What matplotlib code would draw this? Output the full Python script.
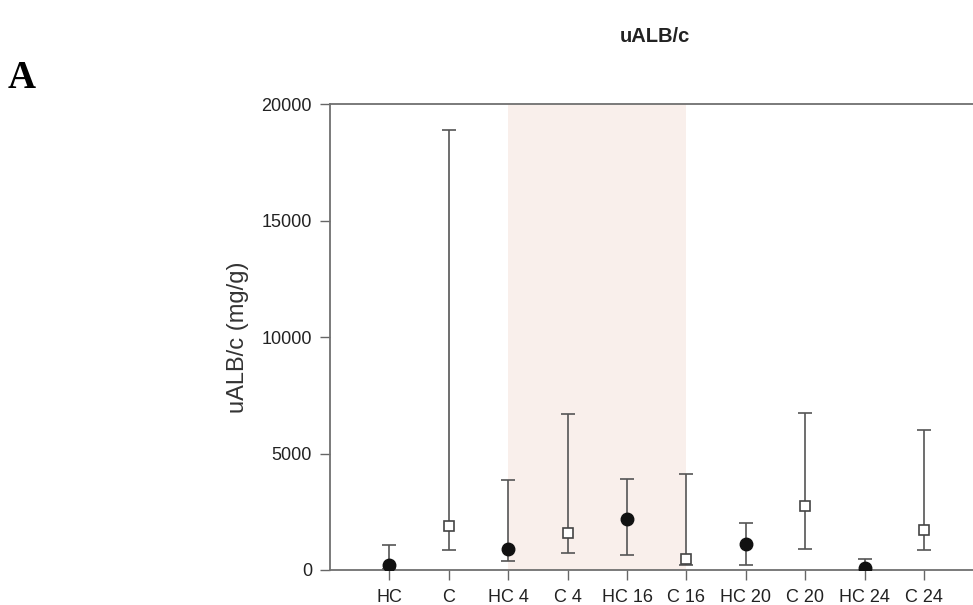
import matplotlib
matplotlib.use("Agg")
import matplotlib.pyplot as plt
import numpy as np

categories = ["HC", "C", "HC 4", "C 4", "HC 16", "C 16", "HC 20", "C 20", "HC 24", "C 24"]
center = [230, 1890, 890, 1600, 2190, 490, 1120, 2750, 70, 1720]
upper = [1090, 18880, 3870, 6680, 3910, 4110, 2000, 6750, 490, 6020]
lower = [30, 860, 390, 710, 650, 220, 230, 920, 10, 860]
filled = [True, False, True, False, True, False, True, False, True, False]
yticks = [0, 5000, 10000, 15000, 20000]

plt.rcParams['font.family'] = ['Liberation Sans', 'DejaVu Sans']

fig = plt.figure(figsize=(9.73, 6.05), dpi=100)
ax = fig.add_axes([330/973, 1-570/605, 653.4/973, (570-104.3)/605])

x = np.arange(1, len(categories)+1)
ax.axvspan(3, 6, color='#f9efeb', zorder=0, lw=0)

ec = '#555555'
for xi, c, u, l, f in zip(x, center, upper, lower, filled):
    ax.errorbar([xi], [c], yerr=[[c-l], [u-c]], fmt='none', ecolor=ec,
                elinewidth=1.2, capsize=5.3, capthick=1.2, zorder=2)
    if f:
        ax.plot([xi], [c], 'o', ms=9, mfc='#111111', mec='#111111', zorder=3)
    else:
        ax.plot([xi], [c], 's', ms=7.3, mfc='white', mec='#444444', mew=1.2, zorder=3)

ax.set_xlim(0, 11)
ax.set_ylim(0, 20000)
ax.set_xticks(x)
ax.set_xticklabels(categories, fontsize=13, color='#222222')
ax.set_yticks(yticks)
ax.set_yticklabels([str(v) for v in yticks], fontsize=13, color='#222222')
ax.tick_params(axis='both', direction='out', length=7, width=1.0, color='#666666')
ax.tick_params(axis='y', pad=6)
ax.tick_params(axis='x', pad=7)
for s in ['left', 'bottom', 'top', 'right']:
    ax.spines[s].set_color('#707070')
    ax.spines[s].set_linewidth(1.3)
ax.set_ylabel('uALB/c (mg/g)', fontsize=17, color='#333333', labelpad=9)

fig.text(655/973, 1-37/605, 'uALB/c', ha='center', va='center', fontsize=14.5,
         fontweight='bold', color='#222222')
fig.text(8/973, 1-79/605, 'A', ha='left', va='center', fontsize=28,
         fontweight='bold', family='Liberation Serif', color='black')

fig.savefig('out.png', dpi=100)
